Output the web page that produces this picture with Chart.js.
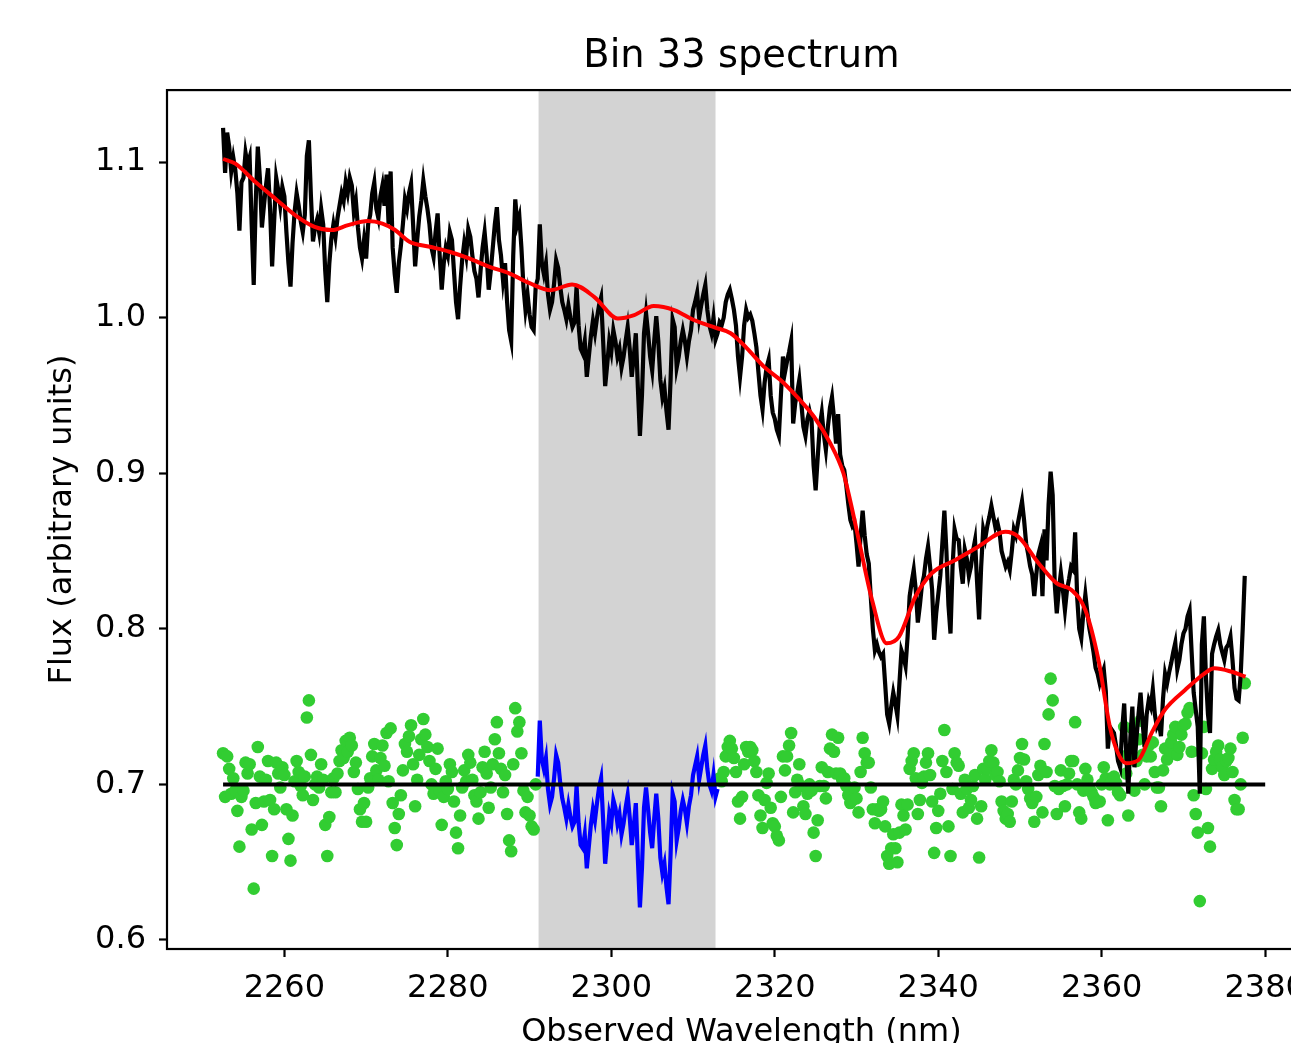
<!DOCTYPE html>
<html>
<head>
<meta charset="utf-8">
<script src="https://cdn.jsdelivr.net/npm/chart.js@4.4.1/dist/chart.umd.min.js"></script>
<style>
html, body { margin: 0; padding: 0; overflow: hidden; background: #fff; }
canvas { display: block; }
</style>
</head>
<body>
<canvas id="spec" width="1318" height="1043"></canvas>
<script>
// spectrum sampled every 0.25 nm from 2252.5 nm
const wlStart = 2252.5;
const wlStep = 0.25;

const fluxObs = [
  1.122,1.093,1.119,1.110,1.094,1.103,1.095,1.080,1.056,1.087,1.090,1.106,1.098,1.103,1.060,1.021,1.075,1.110,1.090,1.058,
  1.072,1.085,1.096,1.070,1.033,1.062,1.090,1.082,1.072,1.084,1.078,1.055,1.035,1.020,1.048,1.068,1.080,1.072,1.062,1.055,
  1.066,1.104,1.114,1.078,1.049,1.058,1.063,1.055,1.070,1.060,1.030,1.010,1.035,1.051,1.060,1.052,1.064,1.072,1.080,1.075,
  1.087,1.080,1.090,1.085,1.068,1.075,1.058,1.045,1.038,1.050,1.038,1.060,1.066,1.080,1.087,1.070,1.064,1.078,1.085,1.072,
  1.092,1.060,1.094,1.045,1.028,1.016,1.035,1.046,1.060,1.076,1.070,1.080,1.086,1.060,1.033,1.050,1.065,1.075,1.088,1.078,
  1.070,1.060,1.045,1.039,1.055,1.067,1.040,1.018,1.035,1.045,1.040,1.055,1.050,1.030,1.010,0.999,1.020,1.037,1.048,1.040,
  1.057,1.052,1.040,1.030,1.025,1.013,1.030,1.045,1.055,1.040,1.018,1.030,1.045,1.060,1.071,1.050,1.040,1.024,1.035,1.010,
  0.992,0.985,1.040,1.076,1.060,1.065,1.045,1.020,1.005,1.015,1.002,0.994,0.992,1.020,1.025,1.060,1.035,1.028,1.035,1.015,
  1.005,1.010,1.022,1.037,1.032,1.020,1.010,1.005,0.999,1.008,1.000,0.994,0.997,1.020,0.995,0.980,0.977,0.985,0.962,0.975,
  0.988,0.998,0.990,1.000,1.008,1.013,0.985,0.956,0.970,0.985,0.978,0.992,0.985,0.975,0.980,0.968,0.975,0.985,0.994,0.980,
  0.962,0.975,0.990,0.955,0.924,0.950,0.990,1.003,0.990,0.975,0.966,0.985,1.001,0.985,0.960,0.949,0.955,0.940,0.928,0.960,
  0.999,0.994,0.968,0.975,0.985,0.992,0.985,0.975,0.985,0.992,1.005,1.010,1.016,1.000,1.008,1.015,1.021,1.005,0.995,0.990,
  1.000,0.986,0.990,0.997,0.995,1.000,1.010,1.015,1.018,1.012,1.005,0.995,0.975,0.962,0.975,0.995,1.005,1.000,1.002,0.998,
  0.990,0.981,0.965,0.950,0.941,0.958,0.968,0.973,0.950,0.939,0.935,0.928,0.924,0.950,0.975,0.965,0.972,0.978,0.985,0.932,
  0.945,0.952,0.960,0.945,0.930,0.924,0.935,0.940,0.934,0.905,0.889,0.910,0.930,0.939,0.925,0.915,0.930,0.942,0.949,0.935,
  0.919,0.938,0.912,0.905,0.902,0.892,0.880,0.870,0.866,0.868,0.855,0.840,0.860,0.876,0.860,0.848,0.842,0.820,0.800,0.786,
  0.790,0.785,0.782,0.784,0.765,0.745,0.739,0.750,0.759,0.752,0.744,0.765,0.786,0.782,0.776,0.795,0.821,0.830,0.838,0.825,
  0.804,0.815,0.828,0.834,0.845,0.853,0.840,0.825,0.793,0.810,0.822,0.834,0.855,0.876,0.850,0.815,0.797,0.840,0.864,0.858,
  0.857,0.840,0.829,0.851,0.845,0.834,0.840,0.850,0.857,0.830,0.806,0.840,0.864,0.858,0.866,0.872,0.879,0.872,0.865,0.868,
  0.862,0.850,0.845,0.840,0.843,0.838,0.850,0.864,0.860,0.868,0.875,0.882,0.870,0.855,0.848,0.840,0.835,0.821,0.835,0.848,
  0.853,0.821,0.864,0.844,0.880,0.901,0.886,0.829,0.810,0.825,0.836,0.825,0.812,0.825,0.832,0.840,0.838,0.862,0.820,0.800,
  0.794,0.810,0.822,0.810,0.800,0.793,0.785,0.775,0.771,0.765,0.770,0.774,0.760,0.723,0.737,0.735,0.733,0.725,0.715,0.711,
  0.735,0.752,0.720,0.694,0.730,0.750,0.711,0.730,0.745,0.759,0.740,0.724,0.745,0.754,0.750,0.761,0.745,0.737,0.740,0.731,
  0.755,0.771,0.765,0.772,0.778,0.785,0.791,0.774,0.780,0.790,0.797,0.800,0.808,0.812,0.785,0.759,0.748,0.737,0.694,0.790,
  0.808,0.769,0.745,0.733,0.784,0.790,0.795,0.799,0.790,0.785,0.780,0.788,0.790,0.795,0.780,0.762,0.755,0.754,0.770,0.800,0.834
];

// residuals, offset to 0.7
const residual = [
  0.720,0.692,0.718,0.710,0.694,0.704,0.696,0.683,0.660,0.692,0.696,0.714,0.707,0.713,0.671,0.633,0.688,0.724,0.705,0.674,
  0.689,0.703,0.715,0.690,0.654,0.684,0.714,0.707,0.698,0.711,0.706,0.684,0.665,0.651,0.680,0.702,0.715,0.708,0.699,0.693,
  0.705,0.743,0.754,0.719,0.690,0.700,0.705,0.698,0.713,0.703,0.674,0.654,0.679,0.695,0.704,0.695,0.707,0.715,0.722,0.717,
  0.728,0.721,0.730,0.725,0.708,0.714,0.697,0.684,0.676,0.688,0.676,0.698,0.704,0.718,0.726,0.709,0.703,0.717,0.725,0.712,
  0.733,0.702,0.736,0.688,0.672,0.661,0.681,0.693,0.709,0.726,0.721,0.731,0.738,0.713,0.686,0.703,0.719,0.729,0.742,0.732,
  0.724,0.715,0.700,0.694,0.710,0.723,0.696,0.674,0.692,0.702,0.697,0.713,0.708,0.689,0.669,0.659,0.680,0.698,0.709,0.702,
  0.719,0.714,0.703,0.693,0.689,0.678,0.695,0.711,0.721,0.707,0.685,0.698,0.713,0.729,0.740,0.720,0.710,0.695,0.706,0.681,
  0.664,0.657,0.713,0.749,0.734,0.740,0.720,0.696,0.682,0.692,0.680,0.673,0.671,0.700,0.705,0.741,0.716,0.710,0.717,0.697,
  0.687,0.692,0.704,0.719,0.714,0.701,0.691,0.685,0.678,0.687,0.679,0.673,0.676,0.699,0.675,0.661,0.659,0.668,0.646,0.660,
  0.674,0.684,0.677,0.688,0.698,0.704,0.677,0.649,0.665,0.681,0.675,0.690,0.685,0.675,0.681,0.668,0.675,0.685,0.693,0.679,
  0.661,0.673,0.688,0.652,0.621,0.646,0.685,0.698,0.684,0.669,0.659,0.678,0.694,0.678,0.653,0.643,0.649,0.634,0.623,0.655,
  0.694,0.689,0.664,0.672,0.683,0.690,0.684,0.675,0.686,0.693,0.706,0.712,0.718,0.703,0.711,0.719,0.725,0.710,0.700,0.696,
  0.706,0.692,0.697,0.704,0.702,0.708,0.718,0.724,0.728,0.723,0.717,0.708,0.689,0.678,0.692,0.713,0.724,0.721,0.724,0.722,
  0.715,0.708,0.693,0.680,0.672,0.690,0.701,0.707,0.685,0.675,0.673,0.667,0.664,0.692,0.718,0.709,0.718,0.725,0.733,0.682,
  0.695,0.703,0.713,0.699,0.686,0.681,0.694,0.700,0.696,0.669,0.654,0.677,0.699,0.711,0.699,0.691,0.708,0.723,0.732,0.721,
  0.707,0.730,0.707,0.703,0.704,0.699,0.693,0.688,0.690,0.698,0.691,0.682,0.708,0.730,0.720,0.714,0.714,0.698,0.684,0.675,
  0.684,0.683,0.684,0.689,0.673,0.654,0.649,0.659,0.668,0.659,0.650,0.669,0.687,0.680,0.671,0.687,0.710,0.715,0.720,0.704,
  0.681,0.690,0.701,0.705,0.714,0.720,0.706,0.689,0.656,0.672,0.683,0.694,0.715,0.735,0.708,0.673,0.654,0.697,0.720,0.714,
  0.712,0.694,0.682,0.703,0.697,0.685,0.690,0.699,0.706,0.678,0.653,0.686,0.710,0.703,0.710,0.715,0.722,0.714,0.706,0.708,
  0.702,0.689,0.683,0.678,0.681,0.676,0.689,0.703,0.700,0.709,0.717,0.726,0.716,0.702,0.697,0.691,0.688,0.676,0.692,0.706,
  0.712,0.682,0.726,0.708,0.745,0.768,0.754,0.699,0.681,0.697,0.709,0.699,0.686,0.700,0.707,0.715,0.715,0.740,0.700,0.682,
  0.678,0.696,0.710,0.703,0.697,0.695,0.692,0.688,0.689,0.689,0.700,0.711,0.704,0.677,0.700,0.702,0.705,0.701,0.695,0.693,
  0.718,0.737,0.707,0.680,0.716,0.736,0.696,0.715,0.729,0.741,0.719,0.700,0.718,0.725,0.718,0.727,0.708,0.698,0.698,0.686,
  0.709,0.723,0.716,0.722,0.727,0.732,0.737,0.719,0.724,0.732,0.738,0.739,0.746,0.749,0.721,0.693,0.681,0.669,0.625,0.720,
  0.737,0.697,0.672,0.660,0.710,0.716,0.721,0.725,0.716,0.711,0.706,0.715,0.717,0.723,0.708,0.690,0.684,0.684,0.700,0.730,0.765
];

// smooth model fit
const modelWl = [2252.5,2254,2256.5,2259,2261.3,2263.7,2265.8,2267.8,2270.2,2272,2273.5,2275.3,2277.8,2280.2,2282.6,
  2285.1,2287.5,2290,2292.6,2295.2,2297.9,2300.8,2302.8,2305.2,2307.7,2310.1,2312.8,2314.6,2316.6,2318.7,2320.7,
  2322.7,2324.8,2326.8,2328.4,2329.2,2330.2,2331.9,2333.7,2335.2,2337.2,2339.2,2342.1,2344.9,2348.2,2349.8,2352.3,
  2354.5,2356.3,2358,2359.6,2361,2362,2363,2364.5,2366.1,2367.7,2370.2,2372.6,2373.8,2375.9,2377.6];
const modelFlux = [1.102,1.099,1.087,1.076,1.066,1.0584,1.0563,1.0595,1.0621,1.0605,1.0565,1.0488,1.0456,1.0424,1.0381,
  1.0327,1.0285,1.0222,1.0177,1.0214,1.0134,0.9995,1.0017,1.0075,1.0049,0.9985,0.9935,0.990,0.9803,0.9684,0.9599,
  0.9492,0.9363,0.9192,0.900,0.883,0.859,0.8185,0.7907,0.795,0.8206,0.8357,0.8442,0.8528,0.8624,0.8592,0.842,
  0.8292,0.825,0.812,0.780,0.737,0.720,0.7136,0.7157,0.733,0.7478,0.7607,0.7714,0.7746,0.7724,0.7692];

const zeroLevel = 0.7;
const zeroFrom = 2252.5, zeroTo = 2380;
const maskLo = 2291.1, maskHi = 2312.75;   // grey band
const blueLo = 2291.0, blueHi = 2313.0;    // residuals drawn as line
const xMin = 2245.64, xMax = 2386.2;
const yMin = 0.5942, yMax = 1.1463;
const xTicks = [2260, 2280, 2300, 2320, 2340, 2360, 2380];
const yTicks = [0.6, 0.7, 0.8, 0.9, 1.0, 1.1];

const wl = fluxObs.map((_, i) => wlStart + i * wlStep);
const obsPts = fluxObs.map((v, i) => ({x: wl[i], y: v}));
const modelPts = modelWl.map((w, i) => ({x: w, y: modelFlux[i]}));
const greenPts = [], bluePts = [];
residual.forEach((r, i) => {
  if (wl[i] >= blueLo && wl[i] <= blueHi) bluePts.push({x: wl[i], y: r});
  else greenPts.push({x: wl[i], y: r});
});

const maskBand = {
  id: 'maskBand',
  beforeDatasetsDraw(chart) {
    const {ctx, chartArea, scales} = chart;
    const x0 = scales.x.getPixelForValue(maskLo);
    const x1 = scales.x.getPixelForValue(maskHi);
    ctx.save();
    ctx.fillStyle = '#d3d3d3';
    ctx.fillRect(x0, chartArea.top, x1 - x0, chartArea.bottom - chartArea.top);
    ctx.restore();
  }
};

const frame = {
  id: 'frame',
  afterDatasetsDraw(chart) {
    const {ctx, chartArea} = chart;
    ctx.save();
    ctx.strokeStyle = '#000';
    ctx.lineWidth = 2.2;
    ctx.strokeRect(chartArea.left, chartArea.top, chartArea.right - chartArea.left, chartArea.bottom - chartArea.top);
    ctx.restore();
  }
};

Chart.defaults.font.family = "'DejaVu Sans', sans-serif";
Chart.defaults.color = '#000';

new Chart(document.getElementById('spec').getContext('2d'), {
  type: 'line',
  data: {
    datasets: [
      { data: [{x: zeroFrom, y: zeroLevel}, {x: zeroTo, y: zeroLevel}], borderColor: '#000', borderWidth: 4, pointRadius: 0, order: 0 },
      { data: modelPts, borderColor: '#ff0000', borderWidth: 4, pointRadius: 0, cubicInterpolationMode: 'monotone', order: 1 },
      { data: obsPts, borderColor: '#000', borderWidth: 4.2, pointRadius: 0, tension: 0, order: 2 },
      { data: bluePts, borderColor: '#0000ff', borderWidth: 4.2, pointRadius: 0, tension: 0, order: 3 },
      { data: greenPts, showLine: false, pointRadius: 6.3, pointBackgroundColor: '#32cd32', pointBorderWidth: 0, borderColor: '#32cd32', order: 4 }
    ]
  },
  options: {
    responsive: false,
    animation: false,
    events: [],
    layout: { autoPadding: false, padding: 0 },
    plugins: {
      legend: { display: false },
      tooltip: { enabled: false },
      title: {
        display: true, text: 'Bin 33 spectrum', color: '#000', fullSize: false,
        font: { size: 38.4, weight: 'normal' },
        padding: { top: 34, bottom: 10 }
      }
    },
    scales: {
      x: {
        type: 'linear', min: xMin, max: xMax,
        afterBuildTicks: s => { s.ticks = xTicks.map(v => ({value: v})); },
        afterFit: s => { s.height = 94; },
        grid: { drawOnChartArea: false, drawTicks: true, tickLength: 8, tickWidth: 2.2, tickColor: '#000' },
        border: { display: false },
        ticks: { color: '#000', font: { size: 32 }, padding: 12, maxRotation: 0, autoSkip: false, callback: v => String(v) },
        title: { display: true, text: 'Observed Wavelength (nm)', color: '#000', font: { size: 32, lineHeight: 0.65 }, padding: 0 }
      },
      y: {
        type: 'linear', min: yMin, max: yMax,
        afterBuildTicks: s => { s.ticks = yTicks.map(v => ({value: v})); },
        afterFit: s => { s.width = 167; },
        grid: { drawOnChartArea: false, drawTicks: true, tickLength: 8, tickWidth: 2.2, tickColor: '#000' },
        border: { display: false },
        ticks: { color: '#000', font: { size: 32 }, padding: 13, callback: v => v.toFixed(1) },
        title: { display: true, text: 'Flux (arbitrary units)', color: '#000', font: { size: 32 }, padding: { top: 43, bottom: 0 } }
      }
    }
  },
  plugins: [maskBand, frame]
});
</script>
</body>
</html>
